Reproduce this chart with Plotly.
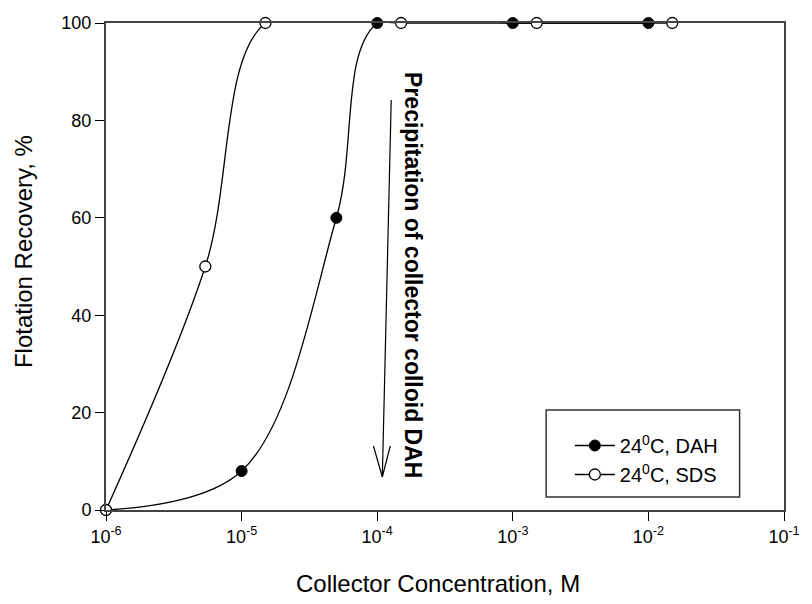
import plotly.graph_objects as go

# Data
dah_conc = [1e-6, 1e-5, 5e-5, 1e-4, 1e-3, 1e-2]
dah_rec = [0, 8, 60, 100, 100, 100]
sds_conc = [1e-6, 5.4e-6, 1.5e-5, 1.5e-4, 1.5e-3, 1.5e-2]
sds_rec = [0, 50, 100, 100, 100, 100]

x_tickvals = [1e-6, 1e-5, 1e-4, 1e-3, 1e-2, 1e-1]
x_ticktext = ["10<sup>-6</sup>", "10<sup>-5</sup>", "10<sup>-4</sup>",
              "10<sup>-3</sup>", "10<sup>-2</sup>", "10<sup>-1</sup>"]
y_tickvals = [0, 20, 40, 60, 80, 100]

W, H = 812, 604
L, R, T, B = 106, 793, 23, 510

def px(x):
    return (x - L) / (R - L)

def py(y):
    return (B - y) / (B - T)

FONT = "Liberation Sans, Arial, Helvetica, sans-serif"

fig = go.Figure()
fig.add_trace(go.Scatter(
    x=dah_conc, y=dah_rec, mode="lines+markers", name="24<sup>0</sup>C, DAH",
    line=dict(color="black", width=1.3, shape="spline", smoothing=1),
    marker=dict(symbol="circle", size=11, color="black", line=dict(color="black", width=1)),
    cliponaxis=False,
))
fig.add_trace(go.Scatter(
    x=sds_conc, y=sds_rec, mode="lines+markers", name="24<sup>0</sup>C, SDS",
    line=dict(color="black", width=1.3, shape="spline", smoothing=1),
    marker=dict(symbol="circle", size=11, color="white", line=dict(color="black", width=1.3)),
    cliponaxis=False,
))

# Arrow (shapes in paper coords)
ax_top = (395, 100)
ax_tip = (386, 477)
shapes = [
    dict(type="line", xref="paper", yref="paper",
         x0=px(ax_top[0]), y0=py(ax_top[1]), x1=px(ax_tip[0]), y1=py(ax_tip[1]),
         line=dict(color="black", width=1.2)),
    dict(type="line", xref="paper", yref="paper",
         x0=px(ax_tip[0] - 9), y0=py(ax_tip[1] - 31), x1=px(ax_tip[0]), y1=py(ax_tip[1]),
         line=dict(color="black", width=1.2)),
    dict(type="line", xref="paper", yref="paper",
         x0=px(ax_tip[0] + 8), y0=py(ax_tip[1] - 31), x1=px(ax_tip[0]), y1=py(ax_tip[1]),
         line=dict(color="black", width=1.2)),
    # legend box
    dict(type="rect", xref="paper", yref="paper",
         x0=px(552), y0=py(497), x1=px(748), y1=py(410),
         line=dict(color="#333", width=1.5), fillcolor="white", layer="below"),
]

fig.update_layout(
    width=W, height=H,
    margin=dict(l=L, r=W - R, t=T, b=H - B, pad=0),
    paper_bgcolor="white", plot_bgcolor="white",
    font=dict(family=FONT, color="black", size=18),
    showlegend=True,
    legend=dict(
        x=px(576), y=py(426), xanchor="left", yanchor="top",
        borderwidth=0, bgcolor="rgba(0,0,0,0)",
        font=dict(size=20), tracegroupgap=0, itemwidth=40,
    ),
    shapes=shapes,
    annotations=[
        dict(text="<b>Precipitation of collector colloid DAH</b>", xref="paper", yref="paper",
             x=px(417), y=py(275), textangle=90, showarrow=False,
             font=dict(size=23, color="black"), xanchor="center", yanchor="middle"),
        dict(text="Collector Concentration, M", xref="paper", yref="paper",
             x=px(442), y=py(583), showarrow=False,
             font=dict(size=24, color="black"), xanchor="center", yanchor="middle"),
        dict(text="Flotation Recovery, %", xref="paper", yref="paper",
             x=px(22), y=py(252), textangle=-90, showarrow=False,
             font=dict(size=24, color="black"), xanchor="center", yanchor="middle"),
    ],
)
fig.update_xaxes(
    type="log", range=[-6, -1], tickvals=x_tickvals, ticktext=x_ticktext,
    ticks="outside", ticklen=9, tickwidth=1, tickcolor="black",
    showline=True, linecolor="#444", linewidth=2, mirror=True,
    showgrid=False, zeroline=False,
    tickfont=dict(size=18),
)
fig.update_yaxes(
    range=[0, 100], tickvals=y_tickvals,
    ticks="outside", ticklen=9, tickwidth=1, tickcolor="black",
    showline=True, linecolor="#444", linewidth=2, mirror=True,
    showgrid=False, zeroline=False,
    tickfont=dict(size=18),
)

fig.write_html("out.html")
